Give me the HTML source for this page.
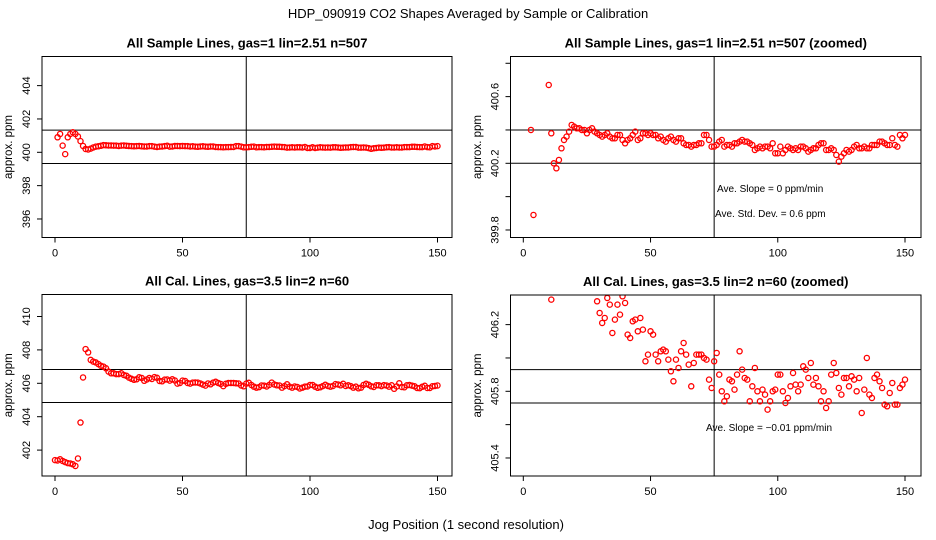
<!DOCTYPE html>
<html><head><meta charset="utf-8"><style>
html,body{margin:0;padding:0;background:#fff;width:936px;height:540px;overflow:hidden;}
svg{display:block;font-family:"Liberation Sans",sans-serif;}
</style></head><body>
<svg id="chart" width="936" height="540" viewBox="0 0 936 540" xmlns="http://www.w3.org/2000/svg">
<rect x="0" y="0" width="936" height="540" fill="#fff"/>
<text x="468" y="18" text-anchor="middle" font-size="13">HDP_090919  CO2 Shapes Averaged by Sample or Calibration</text>
<text x="466" y="529" text-anchor="middle" font-size="13">Jog Position (1 second resolution)</text>
</svg>
<script>
const sampleX0 = 1;
const sampleValues = [400.9,401.1,400.40,399.89,400.9,401.1,401.2,401.1,400.95,400.67,
400.38,400.2,400.17,400.22,400.29,400.34,400.36,400.39,400.43,400.42,
400.41,400.41,400.40,400.40,400.38,400.40,400.41,400.39,400.38,400.37,
400.36,400.37,400.38,400.36,400.35,400.35,400.37,400.37,400.34,400.32,
400.34,400.35,400.37,400.39,400.34,400.35,400.38,400.38,400.37,400.38,
400.37,400.37,400.35,400.36,400.34,400.33,400.35,400.36,400.34,400.33,
400.35,400.35,400.32,400.31,400.31,400.30,400.31,400.31,400.32,400.32,
400.37,400.37,400.34,400.30,400.30,400.31,400.33,400.34,400.30,400.31,
400.31,400.30,400.32,400.32,400.33,400.34,400.33,400.33,400.32,400.31,
400.28,400.29,400.30,400.29,400.30,400.30,400.29,400.32,400.26,400.26,
400.30,400.26,400.28,400.30,400.29,400.28,400.29,400.28,400.30,400.30,
400.29,400.27,400.28,400.29,400.29,400.31,400.32,400.32,400.28,400.28,
400.29,400.28,400.25,400.21,400.24,400.26,400.28,400.27,400.28,400.30,
400.31,400.29,400.29,400.30,400.29,400.29,400.31,400.31,400.31,400.33,
400.33,400.32,400.31,400.31,400.35,400.31,400.30,400.37,400.35,400.37];
const calX0 = 0;
const calValues = [401.40,401.38,401.45,401.35,401.28,401.22,401.20,401.15,401.05,401.50,403.65,
406.35,
408.05,407.85,407.40,407.30,407.25,407.15,407.05,407.00,406.90,406.70,406.60,406.60,406.55,406.55,406.60,406.50,406.45,
406.34,406.27,406.21,406.24,406.36,406.32,406.15,406.23,406.32,406.26,406.37,
406.33,406.14,406.12,406.22,406.23,406.16,406.24,406.17,405.98,406.02,
406.16,406.14,406.02,405.98,406.04,406.05,406.04,405.99,405.92,405.86,
405.99,405.94,406.04,406.09,406.02,405.96,405.83,405.97,406.02,406.02,
406.02,406.00,405.99,405.87,405.82,405.98,406.03,405.90,405.80,405.74,
405.77,405.87,405.86,405.81,405.90,406.04,405.93,405.88,405.87,405.74,
405.83,405.94,405.80,405.74,405.81,405.78,405.69,405.74,405.80,405.81,
405.90,405.90,405.80,405.73,405.76,405.83,405.91,405.84,405.80,405.84,
405.95,405.93,405.88,405.97,405.84,405.88,405.83,405.74,405.80,405.70,
405.74,405.90,405.97,405.91,405.82,405.78,405.88,405.88,405.83,405.89,
405.87,405.80,405.88,405.67,405.81,406.00,405.78,405.76,405.88,405.90,
405.86,405.82,405.72,405.71,405.79,405.85,405.72,405.72,405.82,405.84,405.87];
const xTicks = [0,50,100,150];
const p1YTicks = [396,398,400,402,404];
const p2YTicks = [399.8,400.0,400.2,400.4,400.6,400.8];
const p2YLabels = ["399.8","","400.2","","400.6",""];
const p3YTicks = [402,404,406,408,410];
const p4YTicks = [405.4,405.6,405.8,406.0,406.2];
const p4YLabels = ["405.4","","405.8","","406.2"];
const p1HLines = [401.33,399.33];
const p2HLines = [400.4,400.2];
const p3HLines = [406.83,404.85];
const p4HLines = [405.93,405.73];
const vLineX = 75;

const NS = "http://www.w3.org/2000/svg";
const svg = document.getElementById("chart");
function mk(tag, attrs, parent){
  const e = document.createElementNS(NS, tag);
  for (const k in attrs) e.setAttribute(k, attrs[k]);
  (parent||svg).appendChild(e);
  return e;
}
function panel(cfg){
  const g = mk("g", {});
  
  
  const L=cfg.box[0], T=cfg.box[1], R=cfg.box[2], B=cfg.box[3];
  const sx = v => cfg.x0px + (v - 0) * (cfg.x150px - cfg.x0px) / 150;
  const sy = v => cfg.yrefPx - (v - cfg.yref) * cfg.pxPerUnit;
  const clipId = cfg.name + "-clip";
  const cp = mk("clipPath", {id: clipId}, g);
  mk("rect", {x:L, y:T, width:R-L, height:B-T}, cp);
  const t = mk("text", {x:(L+R)/2, y:T-9, "text-anchor":"middle", "font-size":"13", "font-weight":"bold"}, g);
  t.textContent = cfg.title;
  
  
  const yt = mk("text", {x:0, y:0, "text-anchor":"middle", "font-size":"11.5", transform:`translate(${cfg.yTitleX},${(T+B)/2}) rotate(-90)`}, g);
  yt.textContent = "approx. ppm";
  
  
  xTicks.forEach(v=>{
    const x = sx(v);
    const tk = mk("line", {x1:x, y1:B, x2:x, y2:B+5, stroke:"#000", "stroke-width":1}, g);
    
    
    const lb = mk("text", {x:x, y:B+19, "text-anchor":"middle", "font-size":"11"}, g);
    lb.textContent = String(v);
    
    
  });
  cfg.yTicks.forEach((v,i)=>{
    const y = sy(v);
    const tk = mk("line", {x1:L-5, y1:y, x2:L, y2:y, stroke:"#000", "stroke-width":1}, g);
    
    
    const txt = cfg.yLabels ? cfg.yLabels[i] : String(v);
    if (txt){
      const lb = mk("text", {x:0, y:0, "text-anchor":"middle", "font-size":"11", transform:`translate(${L-12},${y}) rotate(-90)`}, g);
      lb.textContent = txt;
      
      
    }
  });
  const cg = mk("g", {"clip-path":`url(#${clipId})`}, g);
  cfg.hLines.forEach(v=>{
    const hl = mk("line", {x1:L, y1:sy(v), x2:R, y2:sy(v), stroke:"#000", "stroke-width":1}, cg);
    
    
  });
  const vl = mk("line", {x1:sx(vLineX), y1:T, x2:sx(vLineX), y2:B, stroke:"#000", "stroke-width":1}, cg);
  
  
  cfg.values.forEach((v,i)=>{
    const c = mk("circle", {cx:sx(cfg.xStart+i), cy:sy(v), r:2.6, fill:"none", stroke:"#f00", "stroke-width":1.3}, cg);
    
    
  });
  const bx = mk("rect", {x:L, y:T, width:R-L, height:B-T, fill:"none", stroke:"#000", "stroke-width":1}, g);
  
  
  (cfg.notes||[]).forEach(n=>{
    const nt = mk("text", {x:n[0], y:n[1], "font-size":"10"}, g);
    nt.textContent = n[2];
    
    
  });
}
panel({name:"sample-panel", title:"All Sample Lines, gas=1 lin=2.51 n=507", box:[42,56.5,452,237.5],
  x0px:55, x150px:437.5, yref:400, yrefPx:152.3, pxPerUnit:16.67, yTitleX:12,
  yTicks:p1YTicks, hLines:p1HLines, values:sampleValues, xStart:sampleX0});
panel({name:"sample-zoomed-panel", title:"All Sample Lines, gas=1 lin=2.51 n=507 (zoomed)", box:[510.5,56.5,921,237.5],
  x0px:523.3, x150px:905, yref:400.2, yrefPx:163.3, pxPerUnit:166.7, yTitleX:481,
  yTicks:p2YTicks, yLabels:p2YLabels, hLines:p2HLines, values:sampleValues, xStart:sampleX0,
  notes:[[717,192,"Ave. Slope =  0  ppm/min"],[715,217,"Ave. Std. Dev. =  0.6  ppm"]]});
panel({name:"cal-panel", title:"All Cal. Lines, gas=3.5 lin=2 n=60", box:[42,294.5,452,476],
  x0px:55, x150px:437.5, yref:406, yrefPx:383.3, pxPerUnit:16.7, yTitleX:12,
  yTicks:p3YTicks, hLines:p3HLines, values:calValues, xStart:calX0});
panel({name:"cal-zoomed-panel", title:"All Cal. Lines, gas=3.5 lin=2 n=60 (zoomed)", box:[510.5,295,921,476],
  x0px:523.3, x150px:905, yref:405.8, yrefPx:391.3, pxPerUnit:166.7, yTitleX:481,
  yTicks:p4YTicks, yLabels:p4YLabels, hLines:p4HLines, values:calValues, xStart:calX0,
  notes:[[706,431,"Ave. Slope =  \u22120.01  ppm/min"]]});
</script>
</body></html>
